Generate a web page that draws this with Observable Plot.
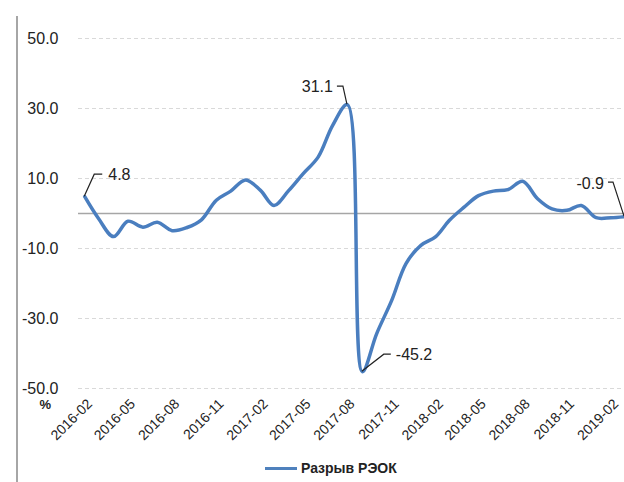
<!DOCTYPE html>
<html>
<head>
<meta charset="utf-8">
<script src="https://cdn.jsdelivr.net/npm/d3@7"></script>
<script src="https://cdn.jsdelivr.net/npm/@observablehq/plot@0.6"></script>
<style>
  html, body { margin: 0; padding: 0; background: #fff; }
  body { width: 624px; height: 482px; overflow: hidden; font-family: "Liberation Sans", Arial, sans-serif; }
  #wrap { position: relative; width: 624px; height: 482px; }
  #vline { position: absolute; left: 16px; top: 16px; bottom: 0; width: 2px; background: #a6a6a6; }
  #chart { position: absolute; left: 0; top: 0; }
  #legend { position: absolute; left: 265px; top: 460px; display: flex; align-items: center; font-weight: bold; font-size: 14px; color: #222; }
  #legend .sw { width: 32px; height: 3px; background: #4f81bd; margin-right: 4px; }
</style>
</head>
<body>
<div id="wrap">
  <div id="vline"></div>
  <div id="chart"></div>
  <div id="legend"><span class="sw"></span><span>Разрыв РЭОК</span></div>
</div>
<script>
const months = [
  "2016-02","2016-03","2016-04","2016-05","2016-06","2016-07","2016-08","2016-09","2016-10","2016-11","2016-12",
  "2017-01","2017-02","2017-03","2017-04","2017-05","2017-06","2017-07","2017-08","2017-09","2017-10","2017-11","2017-12",
  "2018-01","2018-02","2018-03","2018-04","2018-05","2018-06","2018-07","2018-08","2018-09","2018-10","2018-11","2018-12",
  "2019-01","2019-02","2019-03"
];
const gap = [
  4.8, -1.5, -6.6, -2.2, -3.9, -2.5, -4.9, -4.0, -1.8, 3.8, 6.4,
  9.6, 6.6, 2.3, 6.6, 11.4, 16.1, 25.1, 31.1, -45.2, -34.3, -24.9, -14.3,
  -9.1, -6.6, -2.0, 1.8, 5.1, 6.4, 6.8, 9.2, 4.2, 1.3, 0.9, 2.3,
  -1.2, -1.2, -0.9
];
const yTicks = [-50, -30, -10, 10, 30, 50];
const xTickMonths = ["2016-02","2016-05","2016-08","2016-11","2017-02","2017-05","2017-08","2017-11","2018-02","2018-05","2018-08","2018-11","2019-02"];
const seriesName = "Разрыв РЭОК";
const annotations = [
  {month: "2016-02", label: "4.8"},
  {month: "2017-08", label: "31.1"},
  {month: "2017-09", label: "-45.2"},
  {month: "2019-03", label: "-0.9"}
];

const parse = d3.utcParse("%Y-%m");
const data = months.map((m, i) => ({date: parse(m), value: gap[i]}));
const xTicks = xTickMonths.map(parse);

const plot = Plot.plot({
  width: 624,
  height: 448,
  marginTop: 38,
  marginBottom: 60,
  marginLeft: 78,
  marginRight: 0,
  style: {fontFamily: "'Liberation Sans', Arial, sans-serif", background: "transparent", overflow: "visible"},
  x: {type: "utc", domain: [new Date(Date.UTC(2016, 0, 19)), parse("2019-03")]},
  y: {domain: [-50, 50]},
  marks: [
    Plot.ruleY(yTicks, {stroke: "#d9d9d9", strokeWidth: 1, strokeDasharray: "4,3"}),
    Plot.ruleY([0], {stroke: "#a6a6a6", strokeWidth: 1.5}),
    Plot.axisY({ticks: yTicks, tickSize: 0, tickPadding: 20, tickFormat: d => d.toFixed(1), fontSize: 16, fill: "#222", label: null}),
    Plot.axisX({ticks: xTicks, tickSize: 0, tickPadding: 13, tickRotate: -45, tickFormat: d3.utcFormat("%Y-%m"), fontSize: 14, fill: "#222", label: null, dx: 5}),
    Plot.text(["%"], {frameAnchor: "bottom-left", dx: -39, dy: 20, fontSize: 13, fontWeight: "bold", fill: "#222"}),
    Plot.line(data, {x: "date", y: "value", stroke: "#4a7ebf", strokeWidth: 3.5, curve: "catmull-rom"})
  ]
});
document.getElementById("chart").appendChild(plot);

// leader lines and labels, positioned from the plot's own scales
const xs = plot.scale("x"), ys = plot.scale("y");
const svg = d3.select(plot);
const g = svg.append("g");
const leaderStyle = {
  "4.8":   {path: [[10, -22], [18, -22]], tx: 24, ty: -22, anchor: "start"},
  "31.1":  {path: [[-4, -18], [-10, -18]], tx: -14, ty: -18, anchor: "end"},
  "-45.2": {path: [[22, -17], [29, -17]], tx: 34, ty: -17, anchor: "start"},
  "-0.9":  {path: [[-11, -34], [-16, -34]], tx: -20, ty: -33, anchor: "end"}
};
annotations.forEach(a => {
  const i = months.indexOf(a.month);
  const px = xs.apply(parse(a.month)), py = ys.apply(gap[i]);
  const s = leaderStyle[a.label];
  const pts = [[px, py], ...s.path.map(([dx, dy]) => [px + dx, py + dy])];
  g.append("path").attr("d", d3.line()(pts)).attr("fill", "none").attr("stroke", "#222").attr("stroke-width", 1.2);
  g.append("text").attr("x", px + s.tx).attr("y", py + s.ty).attr("dy", "0.35em")
    .attr("text-anchor", s.anchor).attr("font-size", 16).attr("fill", "#222").text(a.label);
});
</script>
</body>
</html>
